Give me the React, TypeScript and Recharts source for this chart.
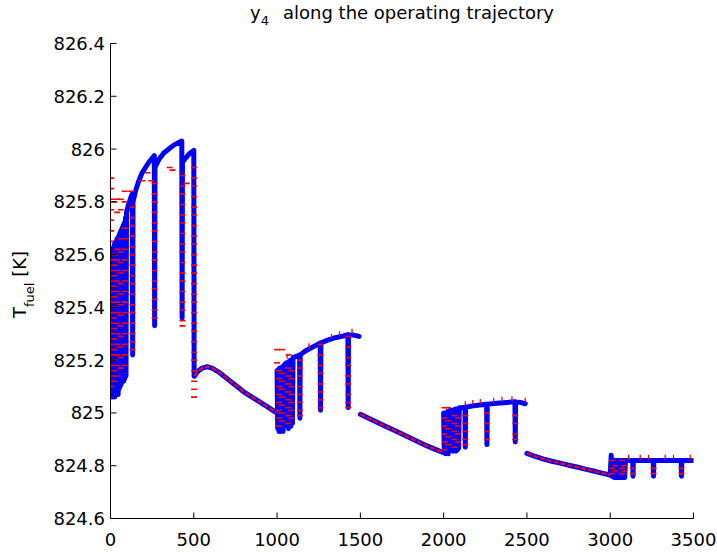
import React from "react";
import { ComposedChart, Line, Scatter, XAxis, YAxis } from "recharts";

const W = 717;
const H = 552;
const FONT = "'DejaVu Sans', 'Liberation Sans', sans-serif";
const FS = 18;

// plot box (px)
const PL = 110.5;
const PR = 693.5;
const PT = 43.5;
const PB = 518.5;

const xTicks = [0, 500, 1000, 1500, 2000, 2500, 3000, 3500];
const yTicks = [824.6, 824.8, 825, 825.2, 825.4, 825.6, 825.8, 826, 826.2, 826.4];

// blue trajectory (sample, T_fuel)
const block1: [number, number][] = [
  [0, 825.62], [2, 825.06], [4, 825.61], [6, 825.06], [9, 825.62], [11, 825.06], [14, 825.62], [16, 825.06],
  [19, 825.63], [21, 825.07], [24, 825.64], [26, 825.06], [29, 825.64], [31, 825.07], [34, 825.65], [36, 825.07],
  [39, 825.66], [41, 825.08], [44, 825.66], [46, 825.07], [49, 825.67], [51, 825.09], [55, 825.68], [58, 825.1],
  [62, 825.69], [65, 825.11], [69, 825.7], [72, 825.12], [76, 825.71], [79, 825.12], [83, 825.72], [86, 825.13],
  [90, 825.74], [93, 825.14], [96, 825.76], [104, 825.78], [114, 825.8], [124, 825.82], [131, 825.83],
  [133, 825.22], [135, 825.8], [150, 825.84], [170, 825.88], [190, 825.91], [210, 825.93], [230, 825.95],
  [250, 825.965], [263, 825.975], [265, 825.33], [267, 825.93], [290, 825.96], [320, 825.985], [350, 826.0],
  [380, 826.015], [410, 826.025], [428, 826.03], [430, 825.36], [432, 825.95], [450, 825.965], [470, 825.98],
  [490, 825.99], [500, 825.995], [502, 825.14],
];
const block2: [number, number][] = [
  [505, 825.14], [520, 825.155], [550, 825.17], [580, 825.175], [610, 825.17], [650, 825.155], [700, 825.13],
  [750, 825.105], [800, 825.08], [850, 825.06], [900, 825.04], [950, 825.02], [998, 825.0],
];
const block3: [number, number][] = [
  [1000, 825.16], [1004, 824.94], [1008, 825.165], [1012, 824.93], [1016, 825.17], [1020, 824.93], [1024, 825.17],
  [1028, 824.94], [1032, 825.175], [1036, 824.93], [1040, 825.18], [1056, 825.19], [1060, 824.95], [1064, 825.19],
  [1068, 824.94], [1072, 825.195], [1076, 824.95], [1080, 825.2], [1084, 824.95], [1088, 825.2], [1092, 824.96],
  [1096, 825.21], [1120, 825.215], [1135, 825.22], [1137, 824.98], [1139, 825.22], [1170, 825.235], [1200, 825.245],
  [1230, 825.255], [1259, 825.265], [1261, 825.01], [1263, 825.265], [1300, 825.275], [1350, 825.285],
  [1400, 825.292], [1425, 825.297], [1427, 825.02], [1429, 825.295], [1460, 825.295], [1492, 825.29],
];
const block4: [number, number][] = [
  [1500, 824.995], [1550, 824.98], [1600, 824.965], [1650, 824.95], [1700, 824.935], [1750, 824.92],
  [1800, 824.905], [1850, 824.89], [1900, 824.875], [1950, 824.862], [1997, 824.85],
];
const block5: [number, number][] = [
  [2000, 825.0], [2004, 824.85], [2008, 825.0], [2012, 824.845], [2016, 825.0], [2020, 824.85], [2024, 825.005],
  [2028, 824.845], [2032, 825.005], [2036, 824.855], [2040, 825.01], [2054, 825.01], [2058, 824.855], [2062, 825.01],
  [2066, 824.86], [2070, 825.015], [2074, 824.855], [2078, 825.015], [2082, 824.86], [2086, 825.015], [2090, 824.865],
  [2094, 825.02], [2110, 825.02], [2128, 825.022], [2130, 824.87], [2132, 825.022], [2180, 825.027], [2230, 825.031],
  [2258, 825.033], [2260, 824.88], [2262, 825.033], [2320, 825.037], [2380, 825.04], [2428, 825.042], [2430, 824.89],
  [2432, 825.042], [2460, 825.04], [2490, 825.035],
];
const block6: [number, number][] = [
  [2500, 824.847], [2550, 824.835], [2600, 824.825], [2650, 824.817], [2700, 824.81], [2750, 824.802],
  [2800, 824.795], [2850, 824.787], [2900, 824.78], [2950, 824.772], [3000, 824.765],
];
const block7: [number, number][] = [
  [3000, 824.765], [3006, 824.84], [3009, 824.76], [3013, 824.825], [3017, 824.76], [3021, 824.82], [3025, 824.755],
  [3029, 824.82], [3033, 824.76], [3037, 824.82], [3041, 824.755], [3045, 824.82], [3060, 824.82], [3063, 824.755],
  [3067, 824.82], [3071, 824.755], [3075, 824.82], [3079, 824.76], [3083, 824.82], [3087, 824.755], [3091, 824.82],
  [3135, 824.82], [3137, 824.76], [3139, 824.82], [3258, 824.82], [3260, 824.76], [3262, 824.82], [3426, 824.82],
  [3428, 824.76], [3430, 824.82], [3495, 824.82],
];

// red reference: dashes seen along the drops (sample, list of levels)
const redDrops: [number, number[]][] = [
  [4, [825.89, 825.85, 825.81, 825.77, 825.73, 825.69, 825.65, 825.58, 825.54, 825.5, 825.46, 825.42, 825.38, 825.34, 825.3, 825.26, 825.22, 825.18, 825.14, 825.1]],
  [22, [825.8, 825.6, 825.56, 825.52, 825.48, 825.44, 825.4, 825.36, 825.32, 825.28, 825.24, 825.2, 825.16, 825.12]],
  [40, [825.81, 825.76, 825.62, 825.58, 825.54, 825.5, 825.46, 825.42, 825.38, 825.34, 825.3, 825.26, 825.22, 825.18, 825.14]],
  [62, [825.81, 825.77, 825.66, 825.61, 825.57, 825.53, 825.49, 825.45, 825.41, 825.37, 825.33, 825.29, 825.25, 825.21, 825.17]],
  [85, [825.84, 825.8, 825.7, 825.66, 825.62, 825.58, 825.54, 825.5, 825.46, 825.42, 825.38, 825.34, 825.3, 825.26, 825.22, 825.18]],
  [124, [825.84]],
  [132, [825.78, 825.74, 825.71, 825.67, 825.63, 825.6, 825.56, 825.52, 825.49, 825.45, 825.41, 825.38, 825.34, 825.3, 825.27, 825.24]],
  [193, [825.88]], [223, [825.91]], [245, [825.88]],
  [265, [825.87, 825.83, 825.8, 825.76, 825.72, 825.69, 825.65, 825.61, 825.58, 825.54, 825.5, 825.47, 825.43, 825.39, 825.36]],
  [355, [825.93]], [372, [825.92]],
  [432, [825.9, 825.86, 825.83, 825.79, 825.75, 825.72, 825.68, 825.64, 825.61, 825.57, 825.53, 825.5, 825.46, 825.42, 825.39, 825.35, 825.33]],
  [457, [825.87]],
  [502, [825.93, 825.89, 825.86, 825.82, 825.78, 825.75, 825.71, 825.67, 825.64, 825.6, 825.56, 825.53, 825.49, 825.45, 825.42, 825.38, 825.34, 825.31, 825.27, 825.23, 825.2, 825.16, 825.12, 825.09, 825.06]],
  [1000, [825.24, 825.19]], [1030, [825.24]], [1070, [825.22]],
  [1012, [825.16, 825.13, 825.1, 825.07, 825.04, 825.01, 824.98, 824.95]],
  [1028, [825.15, 825.12, 825.09, 825.06, 825.03, 825.0, 824.97]],
  [1066, [825.17, 825.14, 825.11, 825.08, 825.05, 825.02, 824.99, 824.96]],
  [1086, [825.16, 825.13, 825.1, 825.07, 825.04, 825.01, 824.98]],
  [1137, [825.2, 825.17, 825.14, 825.1, 825.07, 825.04, 825.01, 824.99]],
  [1261, [825.26, 825.22, 825.18, 825.15, 825.11, 825.08, 825.05, 825.02]],
  [1427, [825.29, 825.25, 825.21, 825.18, 825.14, 825.11, 825.07, 825.04, 825.02]],
  [2005, [825.02, 824.98, 824.95, 824.92, 824.89, 824.86]],
  [2025, [825.02, 824.97, 824.94, 824.91, 824.88]],
  [2065, [824.99, 824.96, 824.93, 824.9, 824.87]],
  [2085, [824.98, 824.95, 824.92, 824.89]],
  [2130, [824.99, 824.96, 824.93, 824.9, 824.88]],
  [2260, [825.0, 824.96, 824.93, 824.9]],
  [2430, [824.99, 824.96, 824.92, 824.9]],
  [3010, [824.82, 824.79, 824.77]], [3030, [824.8, 824.78]], [3070, [824.82, 824.79, 824.77]], [3085, [824.8, 824.78]],
  [3137, [824.79, 824.77]], [3260, [824.79, 824.77]], [3428, [824.79, 824.77]],
];
// small upright red marks sitting on the plateaus
const redBumps: [number, number][] = [
  [1060, 825.215], [1191, 825.255], [1327, 825.29], [1375, 825.3], [1450, 825.31],
  [2130, 825.035], [2175, 825.04], [2220, 825.043], [2300, 825.048], [2350, 825.052], [2410, 825.054], [2490, 825.048],
  [3110, 824.832], [3180, 824.832], [3230, 824.832], [3330, 824.832], [3380, 824.832], [3480, 824.832],
];

const pts = (a: [number, number][]) => a.map(([t, v]) => ({ t, v }));
const blueBlocks = [block1, block2, block3, block4, block5, block6, block7].map(pts);
const redLines = [block2, block4, block6].map(pts);
const redDash = redDrops.flatMap(([t, vs]) => vs.map((v) => ({ t, v })));
const redUp = pts(redBumps);

const fmt = (v: number) => String(Number(v.toFixed(1)));

const DashH = (p: any) => (
  <line x1={p.cx - 3} x2={p.cx + 3} y1={p.cy} y2={p.cy} stroke="#ff0000" strokeWidth={1.6} />
);
const DashV = (p: any) => (
  <line x1={p.cx} x2={p.cx} y1={p.cy - 2.5} y2={p.cy + 2.5} stroke="#ff0000" strokeWidth={1.3} />
);

const BottomTick = (p: any) => (
  <g>
    <line x1={p.x} x2={p.x} y1={PB} y2={PB - 6} stroke="#000" />
    <text x={p.x} y={546} textAnchor="middle" fontFamily={FONT} fontSize={FS} fill="#000">
      {p.payload.value}
    </text>
  </g>
);
const LeftTick = (p: any) => (
  <g>
    <line x1={PL} x2={PL + 6} y1={p.y} y2={p.y} stroke="#000" />
    <text x={105} y={p.y + 6.5} textAnchor="end" fontFamily={FONT} fontSize={FS} fill="#000">
      {fmt(p.payload.value)}
    </text>
  </g>
);
const TopTick = (p: any) => <line x1={p.x} x2={p.x} y1={PT} y2={PT + 6} stroke="#000" />;
const RightTick = (p: any) => <line x1={PR - 6} x2={PR} y1={p.y} y2={p.y} stroke="#000" />;

export default function App() {
  return (
    <div style={{ position: "absolute", left: 0, top: 0, width: W, height: H, background: "#fff" }}>
      <ComposedChart
        width={W}
        height={H}
        margin={{ top: PT, right: W - PR, bottom: H - PB - 30, left: PL - 60 }}
      >
        <XAxis
          dataKey="t"
          type="number"
          domain={[0, 3500]}
          ticks={xTicks}
          allowDataOverflow
          height={30}
          tickLine={false}
          tickSize={0}
          axisLine={{ stroke: "#000" }}
          tick={<BottomTick />}
          interval={0}
        />
        <XAxis
          xAxisId="top"
          orientation="top"
          type="number"
          domain={[0, 3500]}
          ticks={xTicks}
          height={0}
          tickLine={false}
          tickSize={0}
          axisLine={{ stroke: "#000" }}
          tick={<TopTick />}
          interval={0}
        />
        <YAxis
          dataKey="v"
          type="number"
          domain={[824.6, 826.4]}
          ticks={yTicks}
          allowDataOverflow
          width={60}
          tickLine={false}
          tickSize={0}
          axisLine={{ stroke: "#000" }}
          tick={<LeftTick />}
          interval={0}
        />
        <YAxis
          yAxisId="right"
          orientation="right"
          type="number"
          domain={[824.6, 826.4]}
          ticks={yTicks}
          width={0}
          tickLine={false}
          tickSize={0}
          axisLine={{ stroke: "#000" }}
          tick={<RightTick />}
          interval={0}
        />
        {blueBlocks.map((d, i) => (
          <Line
            key={"b" + i}
            data={d}
            dataKey="v"
            type="linear"
            stroke="#0000ff"
            strokeWidth={5}
            strokeLinejoin="round"
            strokeLinecap="round"
            dot={false}
            isAnimationActive={false}
            legendType="none"
          />
        ))}
        {redLines.map((d, i) => (
          <Line
            key={"r" + i}
            data={d}
            dataKey="v"
            type="linear"
            stroke="#ff0000"
            strokeWidth={2.2}
            strokeDasharray="5 2"
            dot={false}
            isAnimationActive={false}
            legendType="none"
          />
        ))}
        <Scatter data={redDash} dataKey="v" shape={DashH} isAnimationActive={false} legendType="none" />
        <Scatter data={redUp} dataKey="v" shape={DashV} isAnimationActive={false} legendType="none" />
      </ComposedChart>
      <svg
        width={W}
        height={H}
        style={{ position: "absolute", left: 0, top: 0, pointerEvents: "none" }}
        fontFamily={FONT}
        fontSize={FS}
      >
        <text x={250} y={19} fill="#000">
          y<tspan fontSize={13} dy={6}>4</tspan>
        </text>
        <text x={283} y={19} fill="#000">
          along the operating trajectory
        </text>
        <text transform="rotate(-90)" x={-318} y={26} fill="#000">
          T<tspan fontSize={13} dy={8}>fuel</tspan>
          <tspan dy={-8}> [K]</tspan>
        </text>
      </svg>
    </div>
  );
}
